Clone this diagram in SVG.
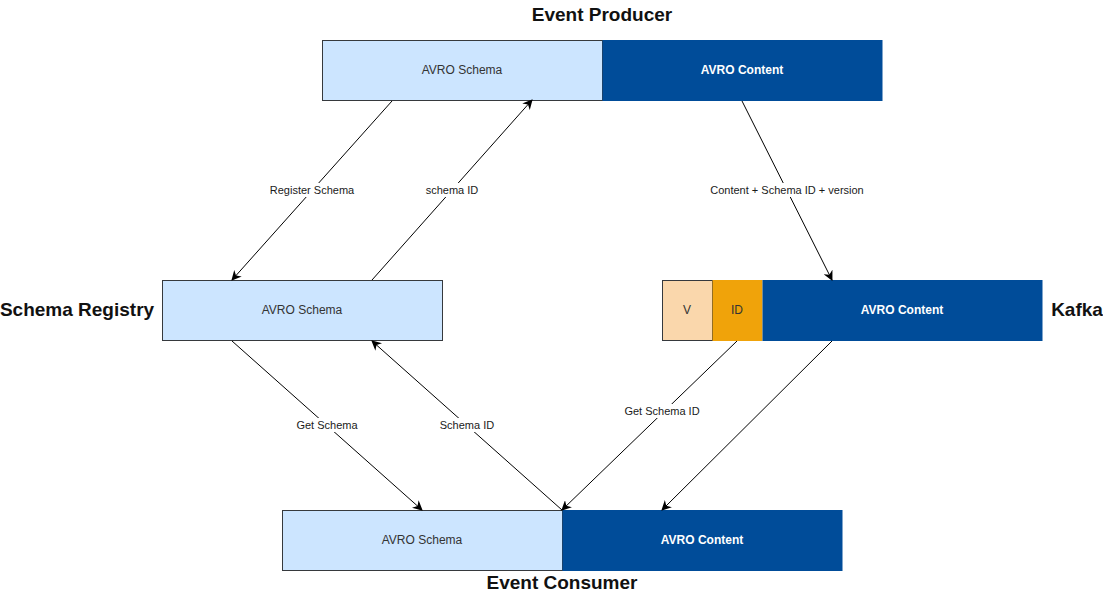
<svg xmlns="http://www.w3.org/2000/svg" width="1103" height="601" viewBox="0 0 1103 601">
<style>
.light{fill:#cce5ff;stroke:#36393d;stroke-width:1}
.dark{fill:#004c99;stroke:none}
.v{fill:#fad7ac;stroke:#36393d;stroke-width:1}
.id{fill:#f0a30a;stroke:none}
.t{font-family:"Liberation Sans",Arial,sans-serif;font-size:12px;text-anchor:middle;dominant-baseline:central;fill:#333333}
.tw{font-family:"Liberation Sans",Arial,sans-serif;font-size:12px;font-weight:bold;text-anchor:middle;dominant-baseline:central;fill:#ffffff}
.title{font-family:"Liberation Sans",Arial,sans-serif;font-size:19px;font-weight:bold;dominant-baseline:central;fill:#111111}
.edge{stroke:#000000;stroke-width:1;fill:none;marker-end:url(#arr)}
.lbl{font-family:"Liberation Sans",Arial,sans-serif;font-size:11px;text-anchor:middle;dominant-baseline:central;fill:#1a1a1a}
.lb{fill:#ffffff}
</style>
<defs>
<marker id="arr" viewBox="0 0 10 10" refX="9" refY="5" markerWidth="10" markerHeight="10" markerUnits="userSpaceOnUse" orient="auto">
<path d="M0,0 L10,5 L0,10 L3,5 Z" fill="#000000"/>
</marker>
</defs>
<rect width="1103" height="601" fill="#ffffff"/>
<g id="producer">
<rect class="light" x="322.5" y="40.5" width="280" height="60"/>
<rect class="dark" x="602.5" y="40" width="280" height="61"/>
<text class="t" x="462" y="70">AVRO Schema</text>
<text class="tw" x="742" y="70">AVRO Content</text>
<text class="title" x="602" y="14" text-anchor="middle">Event Producer</text>
</g>
<g id="registry">
<rect class="light" x="162.5" y="280.5" width="280" height="60"/>
<text class="t" x="302" y="310">AVRO Schema</text>
<text class="title" x="77" y="309" text-anchor="middle">Schema Registry</text>
</g>
<g id="kafka">
<rect class="v" x="662.5" y="280.5" width="50" height="60"/>
<rect class="id" x="712.5" y="280" width="50" height="61"/>
<rect class="dark" x="762.5" y="280" width="280" height="61"/>
<text class="t" x="687" y="310">V</text>
<text class="t" x="737" y="310">ID</text>
<text class="tw" x="902" y="310">AVRO Content</text>
<text class="title" x="1077" y="309" text-anchor="middle">Kafka</text>
</g>
<g id="consumer">
<rect class="light" x="282.5" y="510.5" width="280" height="60"/>
<rect class="dark" x="562.5" y="510" width="280" height="61"/>
<text class="t" x="422" y="540">AVRO Schema</text>
<text class="tw" x="702" y="540">AVRO Content</text>
<text class="title" x="562" y="582" text-anchor="middle">Event Consumer</text>
</g>
<g id="connectors">
<line class="edge" x1="392" y1="101" x2="232" y2="280"/>
<line class="edge" x1="372" y1="280" x2="532" y2="100"/>
<line class="edge" x1="742" y1="101" x2="832" y2="280"/>
<line class="edge" x1="232" y1="341" x2="422" y2="510"/>
<line class="edge" x1="562" y1="510" x2="372" y2="341"/>
<line class="edge" x1="737" y1="341" x2="562" y2="510"/>
<line class="edge" x1="832" y1="341" x2="662" y2="510"/>
<rect class="lb" x="268" y="183" width="88" height="14"/>
<text class="lbl" x="312" y="190">Register Schema</text>
<rect class="lb" x="424" y="183" width="56" height="14"/>
<text class="lbl" x="452" y="190">schema ID</text>
<rect class="lb" x="709" y="183" width="157" height="14"/>
<text class="lbl" x="787" y="190">Content + Schema ID + version</text>
<rect class="lb" x="295" y="418" width="64" height="14"/>
<text class="lbl" x="327" y="425">Get Schema</text>
<rect class="lb" x="438" y="418" width="58" height="14"/>
<text class="lbl" x="467" y="425">Schema ID</text>
<rect class="lb" x="623" y="404" width="78" height="14"/>
<text class="lbl" x="662" y="411">Get Schema ID</text>
</g>
</svg>
